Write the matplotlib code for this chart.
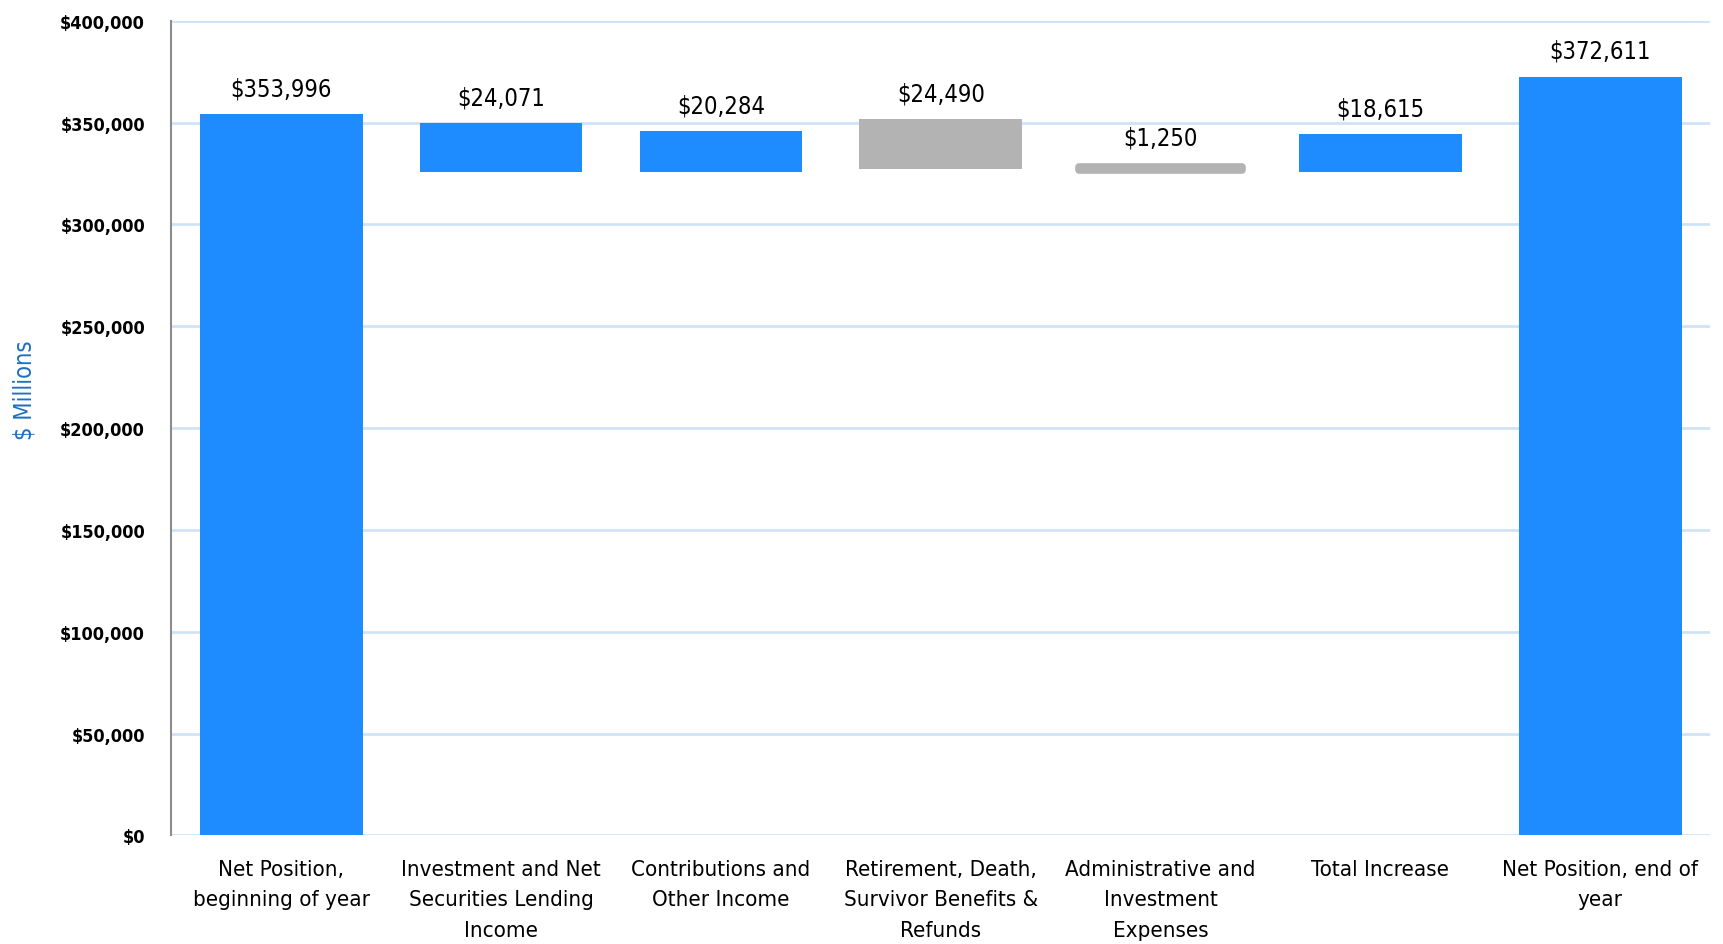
import matplotlib
matplotlib.use("Agg")
import matplotlib.pyplot as plt
from matplotlib.ticker import FuncFormatter

# données du graphique (en millions de $)
categories = ["Net Position,\nbeginning of year",
              "Investment and Net\nSecurities Lending\nIncome",
              "Contributions and\nOther Income",
              "Retirement, Death,\nSurvivor Benefits &\nRefunds",
              "Administrative and\nInvestment\nExpenses",
              "Total Increase",
              "Net Position, end of\nyear"]
values = [353996, 24071, 20284, 24490, 1250, 18615, 372611]
bases = [0, 325600, 325600, 327200, 326900, 325600, 0]
is_decrease = [False, False, False, True, True, False, False]

BLUE = "#1E8CFF"
GRAY = "#B3B3B3"

plt.rcParams["font.family"] = ["DejaVu Sans"]
plt.rcParams["font.stretch"] = "condensed"

fig = plt.figure(figsize=(17.23, 9.45), dpi=100)
ax = fig.add_axes([0.0995, 0.115, 0.893, 0.862])

x = list(range(len(categories)))
colors = [GRAY if d else BLUE for d in is_decrease]
bars = ax.bar(x, values, bottom=bases, width=0.74, color=colors, zorder=3)

# la petite barre grise est dessinée comme un trait épais arrondi
small = bars[4]
small.set_edgecolor(GRAY)
small.set_linewidth(5.5)
small.set_joinstyle("round")

for i, b in enumerate(bars):
    top = bases[i] + values[i]
    off = 13 if i == 4 else 10
    ax.annotate("${:,}".format(values[i]), (x[i], top), xytext=(0, off),
                textcoords="offset points", ha="center", va="bottom",
                fontsize=17, color="black")

ax.set_xlim(-0.5, 6.5)
ax.set_ylim(0, 400000)
ax.set_yticks(range(0, 400001, 50000))
ax.yaxis.set_major_formatter(FuncFormatter(lambda v, p: "${:,.0f}".format(v)))
for lab in ax.get_yticklabels():
    lab.set_fontweight("bold")
    lab.set_fontsize(13)
ax.set_xticks(x)
ax.set_xticklabels(categories, fontsize=16, linespacing=1.65)
ax.tick_params(axis="y", length=0, pad=19)
ax.tick_params(axis="x", length=0, pad=17)

ax.grid(axis="y", color="#CFE3F7", linewidth=2, zorder=0)
ax.set_axisbelow(True)
for s in ["top", "right", "bottom"]:
    ax.spines[s].set_visible(False)
ax.spines["left"].set_color("#8C8C8C")
ax.spines["left"].set_linewidth(1.5)

ax.set_ylabel("$ Millions", color="#1F6FC0", fontsize=17)
ax.yaxis.set_label_coords(-0.088, 0.548)

fig.savefig("out.png", dpi=100)
